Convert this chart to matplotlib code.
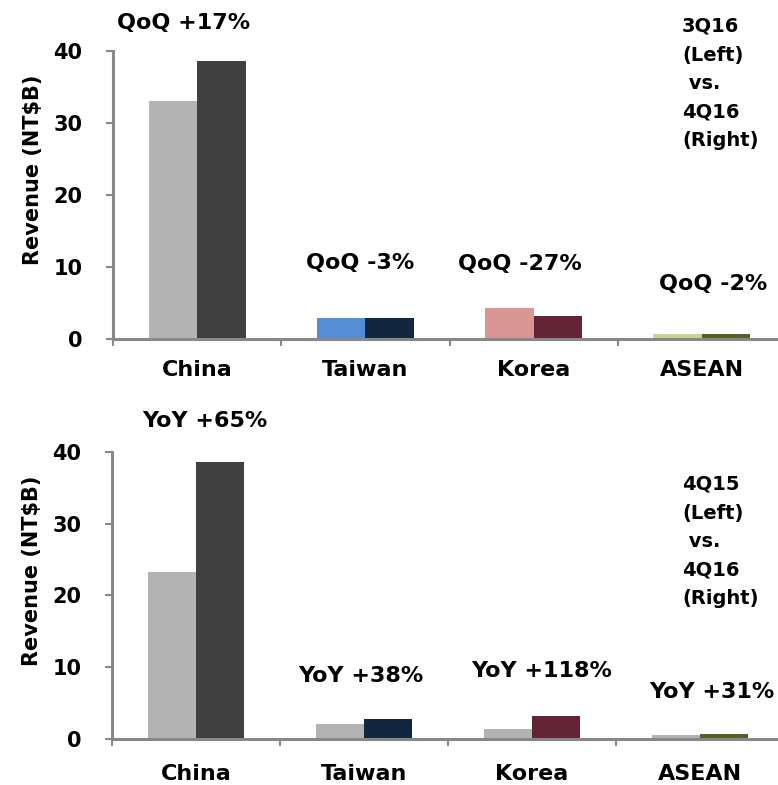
import numpy as np
import matplotlib.pyplot as plt

regions = ['China', 'Taiwan', 'Korea', 'ASEAN']
rev_3q16 = [33.0, 2.95, 4.3, 0.69]
rev_4q16 = [38.6, 2.85, 3.15, 0.675]
rev_4q15 = [23.3, 2.05, 1.45, 0.515]
qoq_labels = ['QoQ +17%', 'QoQ -3%', 'QoQ -27%', 'QoQ -2%']
yoy_labels = ['YoY +65%', 'YoY +38%', 'YoY +118%', 'YoY +31%']
yticks = [0, 10, 20, 30, 40]

prev_colors = ['#b3b3b3', '#558ed5', '#d99694', '#c3d69b']
cur_colors = ['#404040', '#12263f', '#632536', '#4f6228']
grey = '#b3b3b3'
axis_col = '#888888'

plt.rcParams['font.family'] = 'DejaVu Sans'
plt.rcParams['font.weight'] = 'bold'

fig = plt.figure(figsize=(7.78, 7.85), dpi=100)
W, H = 778, 785


def panel(rect, left_vals, left_cols, right_vals, notes, note_pos, xpad, ylab_y):
    ax = fig.add_axes(rect)
    x = np.arange(len(regions))
    bw = 0.288
    ax.bar(x, left_vals, width=-bw, align='edge', color=left_cols, zorder=1)
    ax.bar(x, right_vals, width=bw, align='edge', color=cur_colors, zorder=1)
    ax.set_xlim(-0.5, 3.5)
    ax.set_ylim(0, 40)
    for s in ['top', 'right']:
        ax.spines[s].set_visible(False)
    for s in ['left', 'bottom']:
        ax.spines[s].set_color(axis_col)
        ax.spines[s].set_linewidth(2.2)
    ax.set_yticks(yticks)
    ax.tick_params(axis='y', length=5, width=1.5, color=axis_col, pad=17,
                   labelsize=15)
    ax.set_xticks(x)
    ax.set_xticklabels(regions, fontsize=16, fontweight='bold')
    ax.tick_params(axis='x', which='major', length=0, pad=xpad)
    ax.set_xticks(np.arange(-0.5, 4, 1), minor=True)
    ax.tick_params(axis='x', which='minor', length=5, width=1.5, color=axis_col)
    ax.set_ylabel('Revenue (NT$B)', fontsize=15, fontweight='bold')
    ax.yaxis.set_label_coords(-0.104, ylab_y)
    for t, (px, py) in zip(notes, note_pos):
        ax.text(px, py, t, ha='center', va='baseline', fontsize=16,
                fontweight='bold', clip_on=False)
    return ax


# quarter-over-quarter
panel([113 / W, 1 - 339 / H, 673 / W, 288 / H], rev_3q16, prev_colors, rev_4q16,
      qoq_labels, [(-0.078, 43.0), (0.968, 9.7), (1.918, 9.6), (3.065, 6.8)],
      15, 0.587)

# year-over-year
panel([112 / W, 1 - 739 / H, 672 / W, 287.3 / H], rev_4q15, [grey] * 4, rev_4q16,
      yoy_labels, [(0.054, 43.4), (0.982, 8.0), (2.06, 8.6), (3.071, 5.7)],
      18, 0.585)

# period notes on the right
for lines, base in [(['3Q16', '(Left)', ' vs.', '4Q16', '(Right)'], 32),
                    (['4Q15', '(Left)', ' vs.', '4Q16', '(Right)'], 490)]:
    for i, s in enumerate(lines):
        fig.text(682 / W, 1 - (base + 28.6 * i) / H, s, ha='left',
                 va='baseline', fontsize=14, fontweight='bold')

fig.savefig('out.png', dpi=100)
